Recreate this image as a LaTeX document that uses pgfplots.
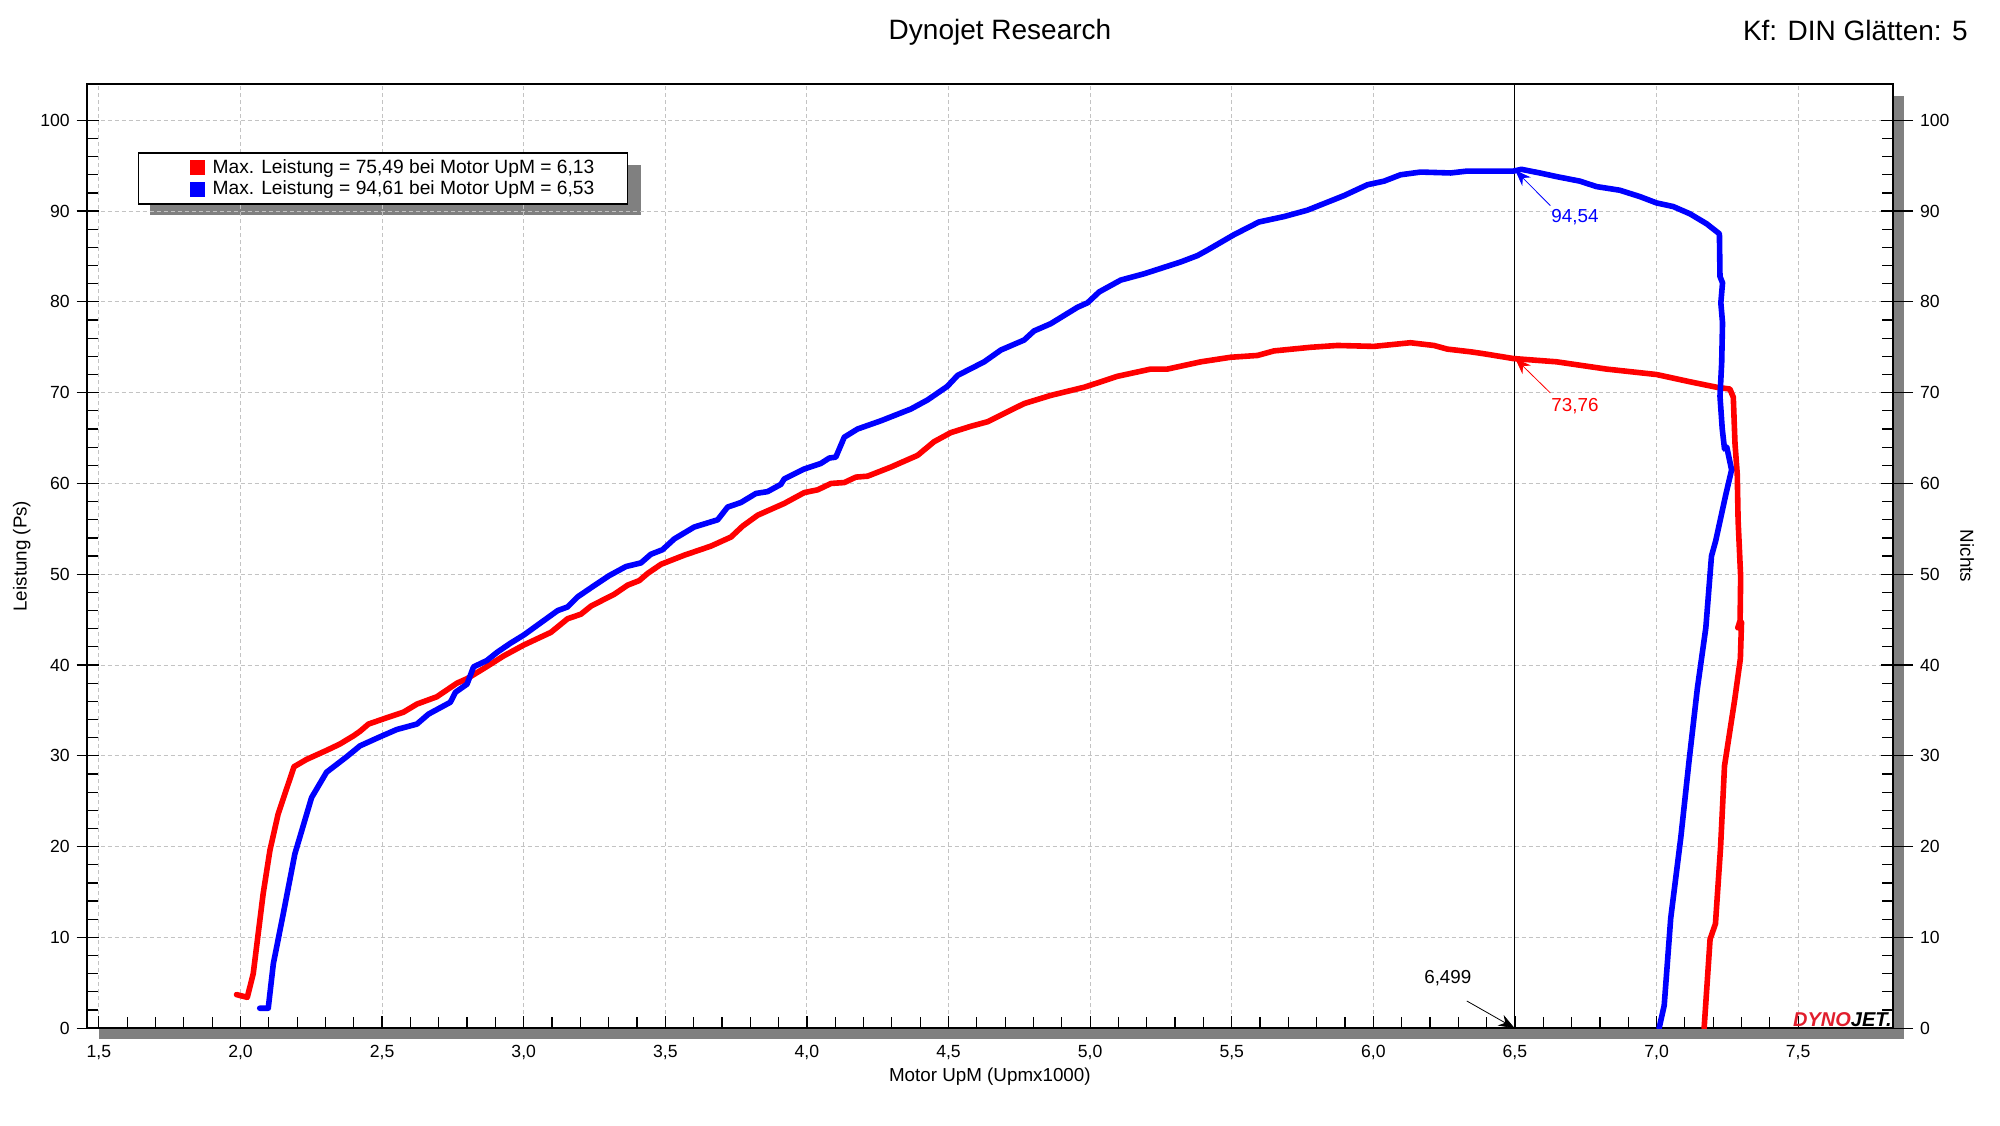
\documentclass[border=0pt]{standalone}
\usepackage{fontspec}
\setmainfont{Liberation Sans}
\usepackage{pgfplots}
\pgfplotsset{compat=1.18}
\usetikzlibrary{arrows.meta}
\definecolor{gridc}{RGB}{195,195,195}
\definecolor{shad}{RGB}{128,128,128}
\definecolor{logored}{RGB}{225,30,45}
\newcommand{\tickfont}{\fontsize{8.8}{10}\selectfont}
\newcommand{\labfont}{\fontsize{9.4}{11}\selectfont}
\pgfplotsset{sqleg/.style={legend image code/.code={\path[draw=none,fill=none] (-11pt,0) (9.5pt,0); \fill[##1,draw=none] (0pt,-3.75pt) rectangle (7.5pt,3.75pt);}}}
\begin{document}
\begin{tikzpicture}
\path[use as bounding box] (0,0) rectangle (1000pt,562.5pt);
\fill[shad] (946.35pt,42.9pt) rectangle (952pt,514.5pt);
\fill[shad] (49.35pt,42.9pt) rectangle (952pt,48.4pt);
% legend shadow
\fill[shad] (75pt,455pt) rectangle (320.5pt,480pt);
\node[font=\fontsize{14}{16}\selectfont] at (500pt,546.5pt) {Dynojet Research};
\node[font=\fontsize{14}{16}\selectfont, anchor=east, inner sep=0pt] at (984pt,547pt) {Kf: DIN Glätten: 5};

% left outside ticks + labels
\begin{axis}[at={(43.35pt,48.4pt)}, anchor=south west, scale only axis,
  width=903.15pt, height=472.1pt, xmin=1.457, xmax=7.835, ymin=0, ymax=104,
  hide x axis, ytick={0,10,...,100}, ytick pos=left, tick align=outside,
  major tick length=5pt, tick style={black, line width=0.6pt},
  yticklabel style={font=\tickfont}, /pgf/number format/assume math mode=true,
  axis line style={draw=none},
  ylabel={Leistung (Ps)},
  ylabel style={at={(axis description cs:-0.036,0.5)}, anchor=center, font=\labfont}]
\addplot[draw=none] coordinates {(2,0)};
\end{axis}

% right outside ticks + labels
\begin{axis}[at={(43.35pt,48.4pt)}, anchor=south west, scale only axis,
  width=903.15pt, height=472.1pt, xmin=1.457, xmax=7.835, ymin=0, ymax=104,
  hide x axis, ytick={0,10,...,100}, ytick pos=right, yticklabel pos=right,
  tick align=outside, major tick length=10pt, tick style={black, line width=0.6pt},
  yticklabel style={font=\tickfont}, /pgf/number format/assume math mode=true,
  axis line style={draw=none},
  ylabel={Nichts}, ylabel style={at={(axis description cs:1.041,0.5)}, anchor=center, rotate=180, font=\labfont}]
\addplot[draw=none] coordinates {(2,0)};
\end{axis}

% main axis
\begin{axis}[at={(43.35pt,48.4pt)}, anchor=south west, scale only axis,
  width=903.15pt, height=472.1pt, xmin=1.457, xmax=7.835, ymin=0, ymax=104,
  xtick={1.5,2,2.5,3,3.5,4,4.5,5,5.5,6,6.5,7,7.5}, ytick={0,10,...,100},
  minor x tick num=4, minor y tick num=4,
  xtick pos=bottom, ytick pos=both, yticklabels={},
  tick align=inside, major tick length=6pt, minor tick length=5.5pt,
  tick style={black, line width=0.6pt},
  xmajorgrids, ymajorgrids,
  major grid style={gridc, line width=0.5pt, dash pattern=on 2pt off 1.5pt},
  axis line style={black, line width=0.8pt},
  /pgf/number format/assume math mode=true,
  xticklabel style={font=\tickfont, /pgf/number format/fixed, /pgf/number format/fixed zerofill,
    /pgf/number format/precision=1, /pgf/number format/use comma, yshift=-5pt},
  xlabel={Motor UpM (Upmx1000)},
  xlabel style={at={(axis description cs:0.5,0)}, anchor=center, yshift=-24pt, font=\labfont},
  legend style={at={(0.0284,0.9275)}, anchor=north west, draw=black, line width=0.6pt, fill=white,
    font=\fontsize{9.6}{11}\selectfont, inner xsep=14.5pt, inner ysep=1.9pt, row sep=0pt,
    nodes={inner ysep=1.2pt}, cells={anchor=west}}
]
\draw[black, line width=0.6pt] (axis cs:6.499,0) -- (axis cs:6.499,104);

\addplot[color=red, line width=2.8pt, line join=round, line cap=round, sqleg] coordinates {
(1.986,3.7) (2.024,3.4) (2.045,6.0) (2.080,14.8) (2.104,19.6) (2.133,23.6) (2.189,28.8)
(2.233,29.6) (2.304,30.6) (2.351,31.3) (2.399,32.2) (2.422,32.7) (2.452,33.5) (2.517,34.2)
(2.575,34.8) (2.623,35.7) (2.693,36.5) (2.764,38.0) (2.800,38.5) (2.858,39.6) (2.929,41.0)
(3.000,42.2) (3.096,43.6) (3.155,45.1) (3.202,45.6) (3.238,46.5) (3.320,47.8) (3.367,48.8)
(3.408,49.3) (3.438,50.1) (3.485,51.1) (3.567,52.1) (3.661,53.1) (3.732,54.1) (3.773,55.3)
(3.826,56.5) (3.920,57.8) (3.991,59.0) (4.038,59.3) (4.085,60.0) (4.132,60.1) (4.173,60.7)
(4.214,60.8) (4.296,61.8) (4.391,63.1) (4.449,64.6) (4.508,65.6) (4.579,66.3) (4.638,66.8)
(4.696,67.7) (4.767,68.8) (4.861,69.7) (4.979,70.6) (5.038,71.2) (5.096,71.8) (5.214,72.6)
(5.273,72.6) (5.391,73.4) (5.496,73.9) (5.591,74.1) (5.649,74.6) (5.779,75.0) (5.873,75.2)
(6.002,75.1) (6.131,75.5) (6.214,75.2) (6.261,74.8) (6.344,74.5) (6.388,74.3) (6.494,73.76)
(6.647,73.4) (6.823,72.6) (7.000,72.0) (7.118,71.2) (7.212,70.6) (7.259,70.4) (7.271,69.5)
(7.277,64.4) (7.285,61.0) (7.288,55.9) (7.297,49.7) (7.295,44.9) (7.287,44.1) (7.300,44.7)
(7.296,40.7) (7.276,36.2) (7.240,28.9) (7.226,19.9) (7.208,11.5) (7.189,9.8) (7.168,0)
};
\addlegendentry{Max. Leistung = 75,49 bei Motor UpM = 6,13}

\addplot[color=blue, line width=2.8pt, line join=round, line cap=round, sqleg] coordinates {
(2.068,2.2) (2.098,2.2) (2.116,7.1) (2.151,12.6) (2.192,19.2) (2.251,25.4) (2.304,28.2)
(2.375,29.9) (2.422,31.1) (2.493,32.1) (2.552,32.9) (2.623,33.5) (2.664,34.6) (2.741,35.9)
(2.759,37.0) (2.800,37.9) (2.823,39.8) (2.870,40.5) (2.906,41.4) (2.953,42.4) (3.000,43.3)
(3.071,44.9) (3.120,46.0) (3.155,46.4) (3.190,47.5) (3.249,48.75) (3.302,49.85) (3.361,50.85)
(3.414,51.25) (3.449,52.2) (3.490,52.7) (3.532,53.9) (3.602,55.2) (3.685,56.0) (3.720,57.4)
(3.767,57.9) (3.820,58.9) (3.861,59.1) (3.908,59.9) (3.920,60.5) (3.991,61.6) (4.049,62.2)
(4.079,62.8) (4.102,62.9) (4.132,65.1) (4.179,66.0) (4.261,66.9) (4.367,68.2) (4.426,69.2)
(4.496,70.7) (4.532,71.9) (4.626,73.4) (4.685,74.7) (4.767,75.8) (4.802,76.8) (4.861,77.6)
(4.955,79.4) (4.991,79.9) (5.032,81.1) (5.108,82.4) (5.191,83.1) (5.320,84.4) (5.379,85.1)
(5.414,85.7) (5.508,87.4) (5.596,88.8) (5.685,89.4) (5.767,90.1) (5.896,91.7) (5.979,92.9)
(6.038,93.3) (6.096,94.0) (6.167,94.3) (6.273,94.2) (6.329,94.4) (6.494,94.4) (6.523,94.6)
(6.588,94.2) (6.647,93.8) (6.729,93.3) (6.788,92.7) (6.870,92.3) (6.941,91.6) (7.000,90.9)
(7.059,90.5) (7.118,89.7) (7.177,88.6) (7.222,87.5) (7.224,82.8) (7.233,82.1) (7.227,79.9)
(7.233,77.7) (7.230,73.3) (7.224,69.6) (7.232,66.0) (7.240,63.8) (7.248,64.0) (7.265,61.5)
(7.244,58.7) (7.209,53.7) (7.194,52.0) (7.174,44.1) (7.144,37.4) (7.115,29.5) (7.086,21.1)
(7.050,12.1) (7.027,2.5) (7.009,0)
};
\addlegendentry{Max. Leistung = 94,61 bei Motor UpM = 6,53}

\draw[blue, line width=0.4pt, -{Stealth[length=8pt,width=6pt]}] (axis cs:6.625,90.6) -- (axis cs:6.501,94.5);
\node[blue, font=\labfont] at (axis cs:6.712,89.3) {94,54};
\draw[red, line width=0.4pt, -{Stealth[length=8pt,width=6pt]}] (axis cs:6.625,69.97) -- (axis cs:6.501,73.76);
\node[red, font=\labfont] at (axis cs:6.712,68.5) {73,76};
\draw[black, line width=0.4pt, -{Stealth[length=8pt,width=6pt]}] (axis cs:6.33,3.0) -- (axis cs:6.499,0);
\node[black, font=\labfont] at (axis cs:6.263,5.5) {6,499};
\node[anchor=south east, inner sep=0pt, yshift=0.8pt, xshift=-0.5pt, font=\fontsize{10}{10}\selectfont\bfseries\itshape] at (rel axis cs:1,0) {\textcolor{logored}{DYNO}JET.};
\end{axis}
\end{tikzpicture}
\end{document}
